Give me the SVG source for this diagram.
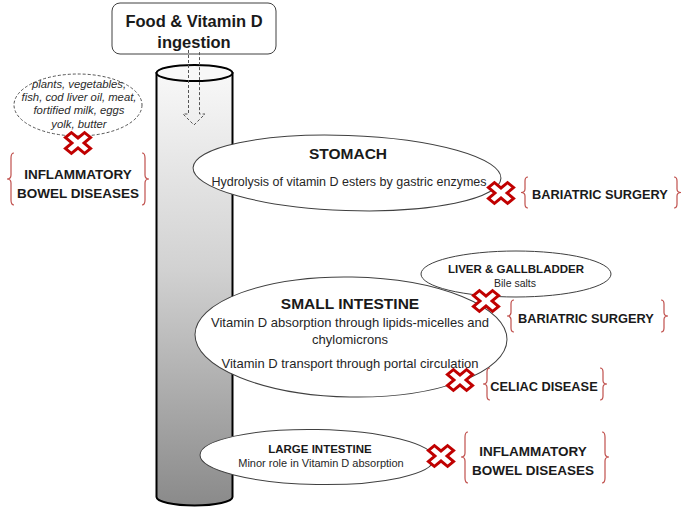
<svg xmlns="http://www.w3.org/2000/svg" xmlns:xlink="http://www.w3.org/1999/xlink" width="685" height="508" viewBox="0 0 685 508">
<defs>
<linearGradient id="tube" x1="0" y1="0" x2="0" y2="1">
<stop offset="0" stop-color="#f8f8f8"/>
<stop offset="0.45" stop-color="#d2d2d2"/>
<stop offset="1" stop-color="#8a8a8a"/>
</linearGradient>
<g id="xmark">
<polygon transform="rotate(45)" points="-3.7,-11.8 3.7,-11.8 3.7,-3.7 11.8,-3.7 11.8,3.7 3.7,3.7 3.7,11.8 -3.7,11.8 -3.7,3.7 -11.8,3.7 -11.8,-3.7 -3.7,-3.7"/>
</g>
<style>
.organ{fill:#fff;stroke:#404040;stroke-width:1}
.h{font-family:"Liberation Sans",Arial,sans-serif;font-weight:bold;fill:#1a1a1a;text-anchor:middle}
.d{font-family:"Liberation Sans",Arial,sans-serif;fill:#262626;text-anchor:middle}
.it{font-family:"Liberation Sans",Arial,sans-serif;font-style:italic;fill:#2b2b2b;text-anchor:middle;font-size:11.3px}
.brace{fill:none;stroke:#c0504d;stroke-width:1.2}
.x{fill:#fff;stroke:#c00000;stroke-width:2.8;stroke-linejoin:miter}
</style>
</defs>
<rect width="685" height="508" fill="#fff"/>

<g id="tube-node">
<path d="M156.5,73 L156.5,497 A38,8.5 0 0 0 232.5,497 L232.5,73 Z" fill="url(#tube)" stroke="#000" stroke-width="2"/>
<ellipse cx="194.5" cy="73" rx="38" ry="8" fill="#f8f8f8" stroke="#000" stroke-width="2"/>
</g>

<g id="food">
<rect x="112" y="3" width="164" height="51" rx="8" fill="#fff" stroke="#404040" stroke-width="1"/>
<text class="h" x="194" y="27" font-size="16.5">Food &amp; Vitamin D</text>
<text class="h" x="194" y="48" font-size="16.5">ingestion</text>
</g>

<g id="connectors">
<path d="M188.5,50 L188.5,114 L183,114 L194,125 L205,114 L199.5,114 L199.5,50" fill="none" stroke="#555" stroke-width="1" stroke-dasharray="3,2"/>
</g>

<g id="sources">
<ellipse cx="78" cy="105" rx="64" ry="31" fill="#fff" stroke="#555" stroke-width="1" stroke-dasharray="3,2"/>
<text class="it" x="79" y="88">plants, vegetables,</text>
<text class="it" x="79" y="101">fish, cod liver oil, meat,</text>
<text class="it" x="79" y="114">fortified milk, eggs</text>
<text class="it" x="79" y="128">yolk, butter</text>
</g>

<g id="stomach">
<ellipse class="organ" cx="347" cy="173" rx="154" ry="37.5" transform="rotate(2 347 173)"/>
<text class="h" x="348" y="159" font-size="15.5">STOMACH</text>
<text class="d" x="349" y="186" font-size="12.5">Hydrolysis of vitamin D esters by gastric enzymes</text>
</g>

<g id="small-intestine">
<ellipse class="organ" cx="351" cy="337" rx="156" ry="60" transform="rotate(1 351 337)"/>
<text class="h" x="350" y="309" font-size="15.5">SMALL INTESTINE</text>
<text class="d" x="350" y="327" font-size="13">Vitamin D absorption through lipids-micelles and</text>
<text class="d" x="350" y="344" font-size="13">chylomicrons</text>
<text class="d" x="350" y="368" font-size="13">Vitamin D transport through portal circulation</text>
</g>

<g id="liver">
<ellipse class="organ" cx="516" cy="274" rx="95" ry="23"/>
<text class="h" x="516" y="273" font-size="11.5">LIVER &amp; GALLBLADDER</text>
<text class="d" x="515" y="287" font-size="10.5" fill="#404040">Bile salts</text>
</g>

<g id="large-intestine">
<ellipse class="organ" cx="317" cy="457" rx="117" ry="27.5" transform="rotate(1 317 457)"/>
<text class="h" x="320" y="453" font-size="11.5">LARGE INTESTINE</text>
<text class="d" x="321" y="467" font-size="11">Minor role in Vitamin D absorption</text>
</g>

<g id="ibd-left">
<path class="brace" d="M14,153 Q11,153 11,158 L11,175 Q11,179 7,179 Q11,179 11,183 L11,200 Q11,205 14,205"/>
<path class="brace" d="M142,153 Q145,153 145,158 L145,175 Q145,179 149,179 Q145,179 145,183 L145,200 Q145,205 142,205"/>
<text class="h" x="78" y="179" font-size="13.5">INFLAMMATORY</text>
<text class="h" x="78" y="198" font-size="13.5">BOWEL DISEASES</text>
</g>

<g id="bariatric-1">
<path class="brace" d="M528,177 Q525,177 525,181 L525,189 Q525,192.5 521,192.5 Q525,192.5 525,196 L525,204 Q525,208 528,208"/>
<path class="brace" d="M674,177 Q677,177 677,181 L677,189 Q677,192.5 681,192.5 Q677,192.5 677,196 L677,204 Q677,208 674,208"/>
<text class="h" x="600" y="199" font-size="12.8">BARIATRIC SURGERY</text>
</g>

<g id="bariatric-2">
<path class="brace" d="M514,300 Q511,300 511,304 L511,312.5 Q511,316 507,316 Q511,316 511,319.5 L511,328 Q511,332 514,332"/>
<path class="brace" d="M661,300 Q664,300 664,304 L664,312.5 Q664,316 668,316 Q664,316 664,319.5 L664,328 Q664,332 661,332"/>
<text class="h" x="586" y="323" font-size="12.8">BARIATRIC SURGERY</text>
</g>

<g id="celiac">
<path class="brace" d="M490,368 Q487,368 487,372 L487,380.5 Q487,384 483,384 Q487,384 487,387.5 L487,396 Q487,400 490,400"/>
<path class="brace" d="M600,368 Q603,368 603,372 L603,380.5 Q603,384 607,384 Q603,384 603,387.5 L603,396 Q603,400 600,400"/>
<text class="h" x="544" y="391" font-size="12.8">CELIAC DISEASE</text>
</g>

<g id="ibd-right">
<path class="brace" d="M468,432 Q465,432 465,437 L465,453 Q465,457 461,457 Q465,457 465,461 L465,478 Q465,483 468,483"/>
<path class="brace" d="M602,432 Q605,432 605,437 L605,453 Q605,457 609,457 Q605,457 605,461 L605,478 Q605,483 602,483"/>
<text class="h" x="533" y="456" font-size="13.5">INFLAMMATORY</text>
<text class="h" x="533" y="475" font-size="13.5">BOWEL DISEASES</text>
</g>

<g id="x-marks" class="x">
<use xlink:href="#xmark" transform="translate(78,143) scale(1.15,0.95)"/>
<use xlink:href="#xmark" transform="translate(501,193) scale(1.15,0.95)"/>
<use xlink:href="#xmark" transform="translate(486,301) scale(1.15,0.95)"/>
<use xlink:href="#xmark" transform="translate(460,380) scale(1.15,0.95)"/>
<use xlink:href="#xmark" transform="translate(441,456) scale(1.15,0.95)"/>
</g>
</svg>
